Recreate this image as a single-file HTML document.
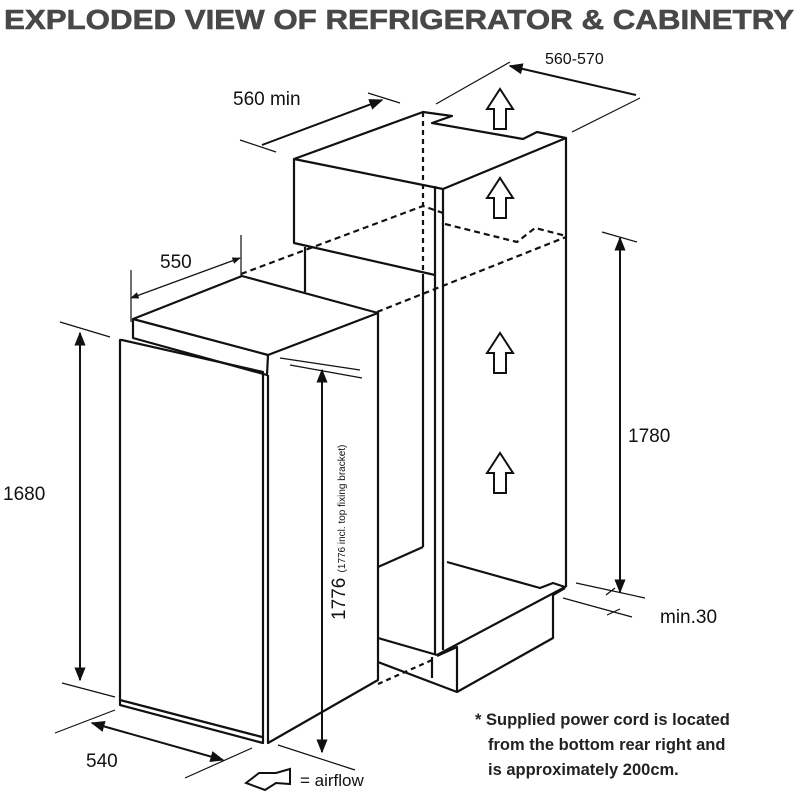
<!DOCTYPE html>
<html><head><meta charset="utf-8"><style>body{margin:0;background:#fff}svg{display:block}</style></head><body>
<svg width="800" height="800" viewBox="0 0 800 800" xmlns="http://www.w3.org/2000/svg" font-family="Liberation Sans, sans-serif">
<defs><marker id="a" viewBox="0 0 10 10" refX="9" refY="5" markerWidth="7" markerHeight="7" orient="auto-start-reverse"><path d="M0,1 L10,5 L0,9z" fill="#111"/></marker></defs>
<text x="4" y="29" font-size="28" font-weight="bold" fill="#484848" stroke="#484848" stroke-width="0.6" textLength="790" lengthAdjust="spacingAndGlyphs">EXPLODED VIEW OF REFRIGERATOR &amp; CABINETRY</text>
<g fill="none" stroke="#111" stroke-width="2.2" stroke-linejoin="round">
<path d="M294,159 L423,112 L452,116 L432,123 L523,139 L537,132 L566,138 L443,189 Z"/>
<path d="M294,159 L294,243 L435,275"/>
<path d="M435,186 L435,655 M443,189 L443,650"/>
<path d="M566,138 L566,587"/>
<path d="M305,247 L305,292"/>
<path d="M423,112 L423,275" stroke-dasharray="5,4"/>
<path d="M423,275 L423,547"/>
<path d="M241,274 L423,206 L443,213 M445,224 L517,242 L535,228 L566,236 M377,312 L566,237" stroke-dasharray="6,4"/>
<path d="M378,567 L423,547 M447,562 L540,588 L553,583 L565,587 L437,655"/>
<path d="M437,656 L457,647 L457,692 M565,588 L553,595 L553,638 L457,692 L378,662 M378,638 L437,655 M432,657 L432,678"/>
<path d="M378,684 L432,660" stroke-dasharray="5,4"/>
<path d="M133,319 L242,276 L378,313 L268,355 Z"/>
<path d="M133,319 L133,338 L267,375 L268,355"/>
<path d="M122,340 L263,372 L263,743 L120,705 L120,340 Z M120,700 L262,737"/>
<path d="M268,375 L268,743 L378,680 L378,313"/>
</g>
<g fill="none" stroke="#111" stroke-width="1.2">
<path d="M60,322 L110,337 M62,683 L115,697"/>
<path d="M80,333 L80,680" stroke-width="2" marker-start="url(#a)" marker-end="url(#a)"/>
<path d="M55,733 L115,710 M185,778 L252,748"/>
<path d="M92,723 L223,760" stroke-width="2" marker-start="url(#a)" marker-end="url(#a)"/>
<path d="M278,745 L355,770 M280,358 L360,370 M290,365 L362,378"/>
<path d="M322,370 L322,752" stroke-width="2" marker-start="url(#a)" marker-end="url(#a)"/>
<path d="M131,270 L131,322 M241,235 L241,276"/>
<path d="M131,298 L240,258" marker-start="url(#a)" marker-end="url(#a)"/>
<path d="M240,140 L276,152 M368,93 L400,103"/>
<path d="M262,145 L382,100" stroke-width="2" marker-end="url(#a)"/>
<path d="M436,104 L510,62 M572,132 L640,98"/>
<path d="M510,66 L636,95" stroke-width="2" marker-start="url(#a)"/>
<path d="M602,232 L637,242 M576,583 L645,598 M563,598 L632,617 M606,595 L615,588 M607,615 L620,609"/>
<path d="M620,238 L620,592" stroke-width="2" marker-start="url(#a)" marker-end="url(#a)"/>
</g>
<g fill="#fff" stroke="#111" stroke-width="2">
<path d="M487,109 L500,89 L513,109 L506,109 L506,129 L494,129 L494,109 Z"/>
<path d="M487,198 L500,178 L513,198 L506,198 L506,218 L494,218 L494,198 Z"/>
<path d="M487,353 L500,333 L513,353 L506,353 L506,373 L494,373 L494,353 Z"/>
<path d="M487,473 L500,453 L513,473 L506,473 L506,493 L494,493 L494,473 Z"/>
<path d="M246,783 L259,773 L276,773 L290,769 L290,784 L276,783 L265,790 Z"/>
</g>
<g font-size="19" fill="#111">
<text x="3" y="500">1680</text>
<text x="86" y="767">540</text>
<text x="160" y="268">550</text>
<text x="233" y="105">560 min</text>
<text x="545" y="64" font-size="16">560-570</text>
<text x="628" y="442">1780</text>
<text x="660" y="623">min.30</text>
<text x="300" y="786" font-size="17">= airflow</text>
<text transform="translate(345,620) rotate(-90)">1776 <tspan font-size="10">(1776 incl. top fixing bracket)</tspan></text>
</g>
<g font-size="16.5" font-weight="bold" fill="#222">
<text x="475" y="725">* Supplied power cord is located</text>
<text x="488" y="750">from the bottom rear right and</text>
<text x="488" y="775">is approximately 200cm.</text>
</g>
</svg>
</body></html>
